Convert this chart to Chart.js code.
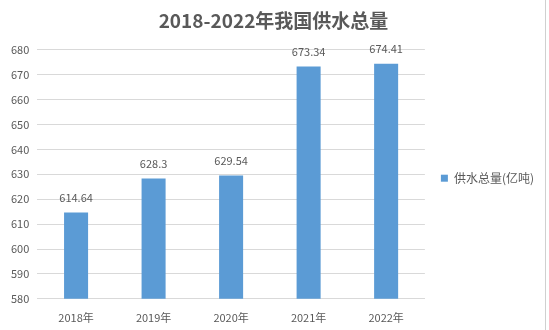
<!DOCTYPE html>
<html>
<head>
<meta charset="utf-8">
<script src="https://cdn.jsdelivr.net/npm/chart.js@4/dist/chart.umd.min.js"></script>
<style>
  body { margin: 0; background: #fff; }
  #wrap { position: relative; width: 549px; height: 330px; }
  #edge { position: absolute; left: 545px; top: 0; width: 1px; height: 330px; background: #d0d0d0; }
</style>
</head>
<body>
<div id="wrap">
  <canvas id="waterChart"></canvas>
  <div id="edge"></div>
</div>
<script>
// 数据
const years = ["2018年", "2019年", "2020年", "2021年", "2022年"];
const supply = [614.64, 628.3, 629.54, 673.34, 674.41];
const yMin = 580;
const yMax = 680;
const yStep = 10;

const textColor = "#595959";
const fontFamily = "'Noto Sans CJK SC', 'Noto Sans', sans-serif";

// 柱顶数值标签
const valueLabels = {
  id: "valueLabels",
  afterDatasetsDraw(chart) {
    const ctx = chart.ctx;
    const meta = chart.getDatasetMeta(0);
    ctx.save();
    ctx.font = "11px " + fontFamily;
    ctx.fillStyle = textColor;
    ctx.textAlign = "center";
    ctx.textBaseline = "middle";
    meta.data.forEach((bar, i) => {
      ctx.fillText(String(supply[i]), bar.x, bar.y - 15);
    });
    ctx.restore();
  },
};

const ctx = document.getElementById("waterChart").getContext("2d");
const waterChart = new Chart(ctx, {
  type: "bar",
  data: {
    labels: years,
    datasets: [
      {
        label: "供水总量(亿吨)",
        data: supply,
        backgroundColor: "#5b9bd5",
        barPercentage: 0.31,
        categoryPercentage: 1,
      },
    ],
  },
  options: {
    responsive: true,
    maintainAspectRatio: false,
    animation: false,
    layout: {
      padding: { left: 3, right: 5, top: 0, bottom: 2 },
    },
    plugins: {
      title: {
        display: true,
        text: "2018-2022年我国供水总量",
        color: textColor,
        font: { family: fontFamily, size: 19, weight: "bold" },
        padding: { top: 9, bottom: 18 },
      },
      legend: {
        position: "right",
        title: {
          display: true,
          text: " ",
          font: { size: 2 },
          padding: { top: 13, bottom: 13 },
        },
        labels: {
          color: textColor,
          font: { family: fontFamily, size: 12 },
          boxWidth: 7,
          boxHeight: 7,
          padding: 16,
        },
      },
      tooltip: { enabled: false },
    },
    scales: {
      x: {
        grid: { display: false },
        border: { display: true, color: "#d9d9d9" },
        ticks: {
          color: textColor,
          font: { family: fontFamily, size: 11 },
          padding: 4,
        },
      },
      y: {
        min: yMin,
        max: yMax,
        ticks: {
          stepSize: yStep,
          color: textColor,
          font: { family: fontFamily, size: 11 },
          padding: 8,
        },
        grid: { color: "#d9d9d9", drawTicks: false },
        border: { display: false },
      },
    },
  },
  plugins: [valueLabels],
});
</script>
</body>
</html>
